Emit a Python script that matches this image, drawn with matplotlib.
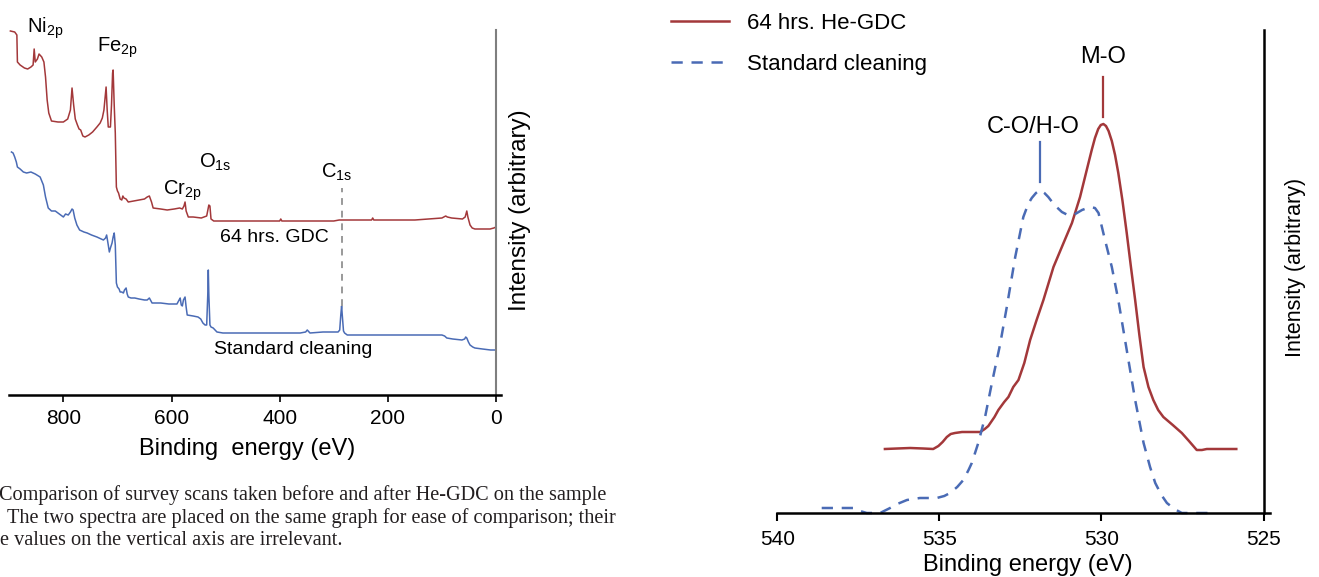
"""
XPS survey scans (left) and O1s high-resolution spectra (right),
before and after He-GDC, drawn side by side with the figure caption text.
"""
import numpy as np
import matplotlib
matplotlib.use("Agg")
import matplotlib.pyplot as plt

plt.rcParams['font.family'] = ['Liberation Sans', 'DejaVu Sans']
plt.rcParams['mathtext.default'] = 'regular'

RED = '#A3383A'
BLUE = '#4A6BB5'

# ---- survey scan, 64 hrs. GDC (binding energy eV, intensity arb.)
survey_gdc_e = [898, 890, 886, 885, 880, 872, 866, 860, 856, 854, 852, 848, 845, 840, 836,
                833, 830, 827, 822, 810, 800, 792, 787, 784, 781, 778, 774, 771, 768, 764,
                760, 753, 746, 738, 732, 728, 725, 721, 719, 717, 713, 711, 709, 708, 706,
                704, 702, 700, 698, 695, 692, 690, 688, 684, 680, 670, 660, 650, 645, 641,
                637, 634, 620, 608, 595, 585, 580, 577, 575, 573, 569, 560, 545, 535, 531,
                529, 527, 522, 505, 486, 400, 398, 396, 300, 290, 285, 230, 228, 226, 150,
                100, 93, 90, 82, 62, 57, 54, 52, 48, 44, 39, 25, 11, 4, 0]
survey_gdc_i = [364, 363, 360, 333, 330, 327, 326, 328, 330, 346, 333, 336, 341, 338, 333,
                318, 295, 282, 274, 273, 273, 276, 285, 307, 290, 276, 270, 266, 265, 259,
                258, 260, 263, 268, 272, 277, 285, 308, 285, 268, 268, 290, 322, 325, 290,
                262, 208, 204, 202, 196, 195, 199, 197, 196, 193, 194, 195, 196, 198, 199,
                193, 187, 186, 185, 186, 187, 186, 189, 193, 184, 178, 178, 177, 179, 190,
                189, 176, 174, 174, 174, 174, 176, 174, 174, 175, 175, 175, 177, 175, 175,
                177, 179, 178, 177, 176, 178, 184, 178, 170, 167, 166, 166, 166, 167, 168]

# ---- survey scan, standard cleaning
survey_std_e = [896, 893, 890, 887, 885, 880, 874, 868, 860, 852, 843, 840, 837, 833, 828,
                822, 815, 810, 805, 800, 796, 791, 787, 784, 782, 779, 775, 770, 762, 756,
                748, 738, 730, 726, 722, 720, 717, 715, 713, 710, 708, 706, 704, 702, 700,
                697, 695, 692, 689, 687, 684, 682, 680, 675, 668, 660, 650, 645, 641, 638,
                636, 620, 605, 597, 590, 586, 584, 582, 580, 578, 575, 573, 571, 560, 551,
                546, 542, 538, 535, 533, 532, 531, 529, 527, 523, 516, 505, 486, 400, 362,
                352, 349, 344, 320, 301, 292, 289, 287, 285.5, 284, 282, 280, 275, 260, 238,
                200, 150, 105, 100, 95, 91, 80, 63, 58, 56, 54, 51, 48, 43, 39, 25, 10, 0]
survey_std_i = [243, 242, 238, 233, 228, 226, 223, 222, 223, 221, 218, 214, 210, 198, 187,
                184, 184, 182, 180, 178, 181, 180, 183, 186, 185, 177, 170, 165, 163, 162,
                160, 158, 156, 155, 157, 160, 150, 143, 147, 152, 158, 162, 150, 112, 108,
                106, 103, 103, 102, 105, 107, 101, 98, 97, 97, 96, 95, 95, 97, 94,
                92, 92, 91, 91, 91, 95, 97, 90, 89, 95, 98, 88, 80, 79, 78,
                76, 72, 70, 70, 100, 125, 100, 70, 68, 67, 63, 62, 62, 62, 62,
                63, 65, 62, 63, 63, 63, 65, 80, 89, 78, 64, 62, 60, 60, 60,
                60, 60, 60, 60, 59, 57, 56, 55, 56, 58, 57, 53, 50, 48, 47, 46, 45, 45]

survey_peaks = ['Ni$_{2p}$', 'Fe$_{2p}$', 'Cr$_{2p}$', 'O$_{1s}$', 'C$_{1s}$']
survey_peak_pos = [(867, 362), (737, 343), (615, 200), (549, 227), (324, 217)]
c1s_energy = 285.5

# ---- O1s region
o1s_gdc_e = [536.68, 536.3, 535.9, 535.5, 535.19, 535.03, 534.9, 534.77, 534.65, 534.52,
             534.3, 534.05, 533.74, 533.6, 533.49, 533.3, 533.18, 533.0, 532.87, 532.72,
             532.56, 532.38, 532.2, 532.0, 531.79, 531.48, 531.17, 530.91, 530.66, 530.4,
             530.3, 530.2, 530.1, 530.02, 529.94, 529.86, 529.78, 529.68, 529.58, 529.48,
             529.35, 529.22, 529.09, 528.96, 528.83, 528.7, 528.55, 528.4, 528.25, 528.09,
             527.8, 527.52, 527.3, 527.06, 526.9, 526.75, 526.3, 525.84]
o1s_gdc_i = [64, 64.5, 65, 64.5, 64, 67, 71, 76, 79, 80,
             81, 81, 81, 84, 87, 96, 103, 111, 116, 126,
             133, 150, 173, 193, 213, 246, 270, 290, 316, 350,
             363, 375, 384, 388, 389, 387, 382, 372, 358, 340,
             312, 280, 246, 213, 178, 146, 126, 113, 103, 96,
             88, 80, 72, 63, 63, 64, 64, 64]
o1s_std_e = [538.63, 538.1, 537.65, 537.45, 537.24, 536.83, 536.52, 536.3, 536.0, 535.6,
             535.3, 535.08, 534.85, 534.67, 534.45, 534.26, 534.1, 534.0, 533.8, 533.59,
             533.38, 533.13, 532.92, 532.66, 532.41, 532.26, 532.15, 532.02, 531.89, 531.76,
             531.64, 531.45, 531.22, 531.04, 530.86, 530.6, 530.35, 530.2, 530.09, 529.89,
             529.68, 529.48, 529.22, 528.96, 528.7, 528.5, 528.34, 528.15, 527.98, 527.75,
             527.52, 527.06, 526.64]
o1s_std_i = [5, 5, 5, 2, 0, 0, 5, 9, 13, 15,
             15, 15, 17, 20, 26, 33, 43, 50, 70, 96,
             130, 168, 206, 256, 296, 309, 315, 320, 323, 320,
             316, 308, 301, 298, 298, 303, 306, 305, 300, 273,
             246, 213, 163, 113, 70, 46, 30, 18, 10, 4,
             0, 0, 0]

caption = ["Comparison of survey scans taken before and after He-GDC on the sample",
           "The two spectra are placed on the same graph for ease of comparison; their",
           "e values on the vertical axis are irrelevant."]

W, H = 1319, 577
fig = plt.figure(figsize=(W / 100, H / 100), dpi=100)

# ================= survey scans =================
ax1 = fig.add_axes([9.3 / W, (H - 395) / H, 492.1 / W, 365 / H])
ax1.plot(survey_gdc_e, survey_gdc_i, color=RED, lw=1.1)
ax1.plot(survey_std_e, survey_std_i, color=BLUE, lw=1.1)
ax1.set_xlim(900, -10)
ax1.set_ylim(0, 365)

for lab, (x, y) in zip(survey_peaks, survey_peak_pos):
    ax1.text(x, y, lab, fontsize=14.5, ha='left', va='baseline')
ax1.text(510, 153, "64 hrs. GDC", fontsize=14, ha='left', va='baseline')
ax1.text(521, 41, "Standard cleaning", fontsize=14, ha='left', va='baseline')

# dashed marker from the C1s peak of the standard cleaning scan
c1s_top = max(i for e, i in zip(survey_std_e, survey_std_i) if abs(e - c1s_energy) < 3)
ax1.plot([c1s_energy, c1s_energy], [c1s_top, 207], color='#999999', lw=1.4,
         linestyle=(0, (3.5, 3)))

for s in ['top', 'left']:
    ax1.spines[s].set_visible(False)
ax1.spines['right'].set_position(('data', 0))
ax1.spines['right'].set_color('#7f7f7f')
ax1.spines['right'].set_linewidth(1.5)
ax1.spines['bottom'].set_linewidth(1.8)
ax1.set_yticks([])
ax1.set_xticks([800, 600, 400, 200, 0])
ax1.tick_params(axis='x', direction='out', length=5, width=1.2, labelsize=15, pad=5)
ax1.set_xlabel("Binding  energy (eV)", fontsize=17)
ax1.xaxis.set_label_coords(0.483, -0.118)
fig.text(520 / W, 1 - 210.5 / H, "Intensity (arbitrary)", fontsize=17.5,
         rotation=90, ha='center', va='center')

# ================= O1s spectra =================
ax2 = fig.add_axes([777.3 / W, (H - 513) / H, 492.7 / W, 483 / H])
l1, = ax2.plot(o1s_gdc_e, o1s_gdc_i, color=RED, lw=1.8, clip_on=False,
               label="64 hrs. He-GDC")
l2, = ax2.plot(o1s_std_e, o1s_std_i, color=BLUE, lw=1.8, clip_on=False,
               linestyle=(0, (4.5, 3.5)), label="Standard cleaning")
ax2.set_xlim(540, 524.8)
ax2.set_ylim(0, 483)

# peak markers
k = int(np.argmax(o1s_gdc_i))
ax2.plot([o1s_gdc_e[k]] * 2, [o1s_gdc_i[k] + 7, o1s_gdc_i[k] + 47], color=RED, lw=1.6)
ax2.text(o1s_gdc_e[k], o1s_gdc_i[k] + 61, "M-O", fontsize=17, ha='center', va='baseline')
k = int(np.argmax(o1s_std_i))
ax2.plot([o1s_std_e[k]] * 2, [o1s_std_i[k] + 8, o1s_std_i[k] + 48], color=BLUE, lw=1.6)
ax2.text(o1s_std_e[k] + 0.22, o1s_std_i[k] + 57, "C-O/H-O", fontsize=17,
         ha='center', va='baseline')

for s in ['top', 'left']:
    ax2.spines[s].set_visible(False)
ax2.spines['right'].set_position(('data', 525))
ax2.spines['right'].set_linewidth(1.8)
ax2.spines['bottom'].set_linewidth(1.8)
ax2.set_yticks([])
ax2.set_xticks([540, 535, 530, 525])
ax2.tick_params(axis='x', direction='out', length=6, width=1.5, labelsize=15, pad=6)
ax2.set_xlabel("Binding energy (eV)", fontsize=17)
ax2.xaxis.set_label_coords(0.509, -0.085)
fig.text(1296 / W, 1 - 267 / H, "Intensity (arbitrary)", fontsize=15.5,
         rotation=90, ha='center', va='center')

ax2.legend(handles=[l1, l2], loc='upper left', bbox_to_anchor=(671 / W, 1 - 13 / H),
           bbox_transform=fig.transFigure, frameon=False, fontsize=16,
           handlelength=2.6, handletextpad=0.8, labelspacing=0.88,
           borderpad=0, borderaxespad=0)

# caption lines
for (x, y), line in zip([(-1, 500), (6.7, 523), (0, 545)], caption):
    fig.text(x / W, 1 - y / H, line, fontsize=14.6, family='Liberation Serif',
             color='#231F20', ha='left', va='baseline')

fig.savefig("out.png", dpi=100)
